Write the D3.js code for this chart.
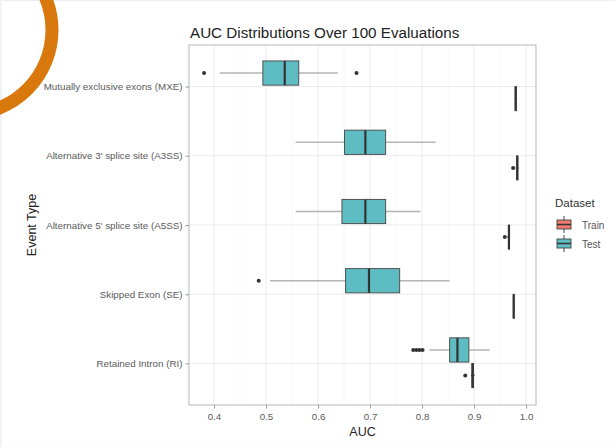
<!DOCTYPE html>
<html lang="en">
<head>
    <meta charset="UTF-8">
    <script src="https://d3js.org/d3.v7.min.js"></script>
    <style>
        body { margin: 0; background: #fff; font-family: 'Liberation Sans', Arial, sans-serif; }
        .grid-major { stroke: #ebebeb; stroke-width: 1; }
        .grid-minor { stroke: #f4f4f4; stroke-width: 0.6; }
        .tick-label { fill: #5a5a5a; font-size: 9.8px; }
    </style>
</head>
<body>
<div id="chart"></div>
<script>
    // event types, top to bottom
    const categories = [
        "Mutually exclusive exons (MXE)",
        "Alternative 3' splice site (A3SS)",
        "Alternative 5' splice site (A5SS)",
        "Skipped Exon (SE)",
        "Retained Intron (RI)"
    ];
    const xTicks = [0.4, 0.5, 0.6, 0.7, 0.8, 0.9, 1.0];
    const xMinor = [0.35, 0.45, 0.55, 0.65, 0.75, 0.85, 0.95];

    // Test set box stats
    const testLow  = [0.411, 0.557, 0.557, 0.508, 0.814];
    const testQ1   = [0.494, 0.651, 0.646, 0.653, 0.853];
    const testMed  = [0.536, 0.691, 0.691, 0.698, 0.868];
    const testQ3   = [0.563, 0.730, 0.730, 0.757, 0.890];
    const testHigh = [0.638, 0.826, 0.797, 0.853, 0.930];
    const testOutliers = [[0.381, 0.674], [], [], [0.486], [0.783, 0.789, 0.795, 0.801]];

    // Train set box stats (very tight)
    const trainLow  = [0.978, 0.980, 0.964, 0.975, 0.894];
    const trainQ1   = [0.979, 0.982, 0.966, 0.976, 0.896];
    const trainMed  = [0.980, 0.983, 0.967, 0.976, 0.897];
    const trainQ3   = [0.981, 0.984, 0.968, 0.977, 0.899];
    const trainHigh = [0.982, 0.985, 0.969, 0.978, 0.901];
    const trainOutliers = [[], [0.975], [0.959], [], [0.883]];

    const datasets = ["Train", "Test"];
    const colors = { Train: "#ee7a70", Test: "#5ebdc3" };

    const W = 615, H = 447;
    const panel = { left: 189, right: 536, top: 45, bottom: 405 };

    const svg = d3.select("#chart").append("svg")
        .attr("width", W).attr("height", H);

    // faint slide frame
    svg.append("rect")
        .attr("x", 1).attr("y", 0.5).attr("width", W).attr("height", H)
        .attr("fill", "none").attr("stroke", "#edf1f5").attr("stroke-width", 1.5);

    const x = d3.scaleLinear().domain([0.352, 1.019]).range([panel.left, panel.right]);
    const y = d3.scalePoint().domain(categories).range([panel.top, panel.bottom]).padding(0.6);
    const step = y.step();

    // grid
    svg.selectAll(".gmin").data(xMinor).join("line")
        .attr("class", "grid-minor")
        .attr("x1", d => x(d)).attr("x2", d => x(d))
        .attr("y1", panel.top).attr("y2", panel.bottom);
    svg.selectAll(".gmaj").data(xTicks).join("line")
        .attr("class", "grid-major")
        .attr("x1", d => x(d)).attr("x2", d => x(d))
        .attr("y1", panel.top).attr("y2", panel.bottom);
    svg.selectAll(".gy").data(categories).join("line")
        .attr("class", "grid-major")
        .attr("x1", panel.left).attr("x2", panel.right)
        .attr("y1", d => y(d)).attr("y2", d => y(d));

    // build box rows
    const rows = [];
    categories.forEach((c, i) => {
        rows.push({ cat: c, set: "Test", off: -0.195 * step,
            low: testLow[i], q1: testQ1[i], med: testMed[i], q3: testQ3[i], high: testHigh[i], out: testOutliers[i] });
        rows.push({ cat: c, set: "Train", off: 0.175 * step,
            low: trainLow[i], q1: trainQ1[i], med: trainMed[i], q3: trainQ3[i], high: trainHigh[i], out: trainOutliers[i] });
    });
    const boxH = 0.35 * step;

    const g = svg.append("g");
    const box = g.selectAll("g.box").data(rows).join("g").attr("class", "box")
        .attr("transform", d => "translate(0," + (y(d.cat) + d.off) + ")");

    // whiskers
    box.append("line")
        .attr("x1", d => x(d.low)).attr("x2", d => x(d.q1))
        .attr("stroke", d => d.set == "Test" ? "#b5b5b5" : "#333").attr("stroke-width", 1.5);
    box.append("line")
        .attr("x1", d => x(d.q3)).attr("x2", d => x(d.high))
        .attr("stroke", d => d.set == "Test" ? "#b5b5b5" : "#333").attr("stroke-width", 1.5);
    box.append("rect")
        .attr("x", d => x(d.q1)).attr("y", -boxH / 2)
        .attr("width", d => Math.max(0.5, x(d.q3) - x(d.q1))).attr("height", boxH)
        .attr("fill", d => colors[d.set])
        .attr("stroke", "#444").attr("stroke-width", 0.9);
    box.append("line")
        .attr("x1", d => x(d.med)).attr("x2", d => x(d.med))
        .attr("y1", -boxH / 2).attr("y2", boxH / 2)
        .attr("stroke", "#333").attr("stroke-width", 2.2);
    box.selectAll("circle").data(d => d.out).join("circle")
        .attr("cx", d => x(d)).attr("cy", 0).attr("r", 2)
        .attr("fill", "#333");

    // panel border
    svg.append("rect")
        .attr("x", panel.left).attr("y", panel.top)
        .attr("width", panel.right - panel.left).attr("height", panel.bottom - panel.top)
        .attr("fill", "none").attr("stroke", "#c4c4c4").attr("stroke-width", 1.2);

    // axes
    const xAxis = svg.append("g")
        .attr("transform", "translate(0," + panel.bottom + ")")
        .call(d3.axisBottom(x).tickValues(xTicks).tickSize(3.5).tickPadding(5).tickFormat(d3.format(".1f")));
    xAxis.select(".domain").remove();
    xAxis.selectAll("line").attr("stroke", "#999");
    xAxis.selectAll("text").attr("class", "tick-label").attr("font-family", null).attr("font-size", null);

    const yAxis = svg.append("g")
        .attr("transform", "translate(" + panel.left + ",0)")
        .call(d3.axisLeft(y).tickSize(3.5).tickPadding(3));
    yAxis.select(".domain").remove();
    yAxis.selectAll("line").attr("stroke", "#999");
    yAxis.selectAll("text").attr("class", "tick-label").attr("font-family", null).attr("font-size", null);

    // titles
    svg.append("text")
        .attr("x", panel.left + 1).attr("y", 37.5)
        .attr("fill", "#222").style("font-size", "15.2px")
        .text("AUC Distributions Over 100 Evaluations");
    svg.append("text")
        .attr("x", (panel.left + panel.right) / 2).attr("y", 436)
        .attr("text-anchor", "middle").attr("fill", "#222").style("font-size", "12.5px")
        .text("AUC");
    svg.append("text")
        .attr("transform", "translate(36," + ((panel.top + panel.bottom) / 2) + ") rotate(-90)")
        .attr("text-anchor", "middle").attr("fill", "#222").style("font-size", "12.5px")
        .text("Event Type");

    // legend
    const legend = svg.append("g").attr("transform", "translate(555,0)");
    legend.append("text").attr("x", 0).attr("y", 207)
        .attr("fill", "#333").style("font-size", "11.5px").text("Dataset");
    const item = legend.selectAll("g.item").data(datasets).join("g").attr("class", "item")
        .attr("transform", (d, i) => "translate(0," + (216 + i * 19) + ")");
    item.append("line").attr("x1", 9).attr("x2", 9).attr("y1", 0).attr("y2", 17)
        .attr("stroke", "#444").attr("stroke-width", 1);
    item.append("rect").attr("x", 2).attr("y", 4).attr("width", 14).attr("height", 9)
        .attr("fill", d => colors[d]).attr("stroke", "#444").attr("stroke-width", 0.9);
    item.append("line").attr("x1", 2).attr("x2", 16).attr("y1", 8.5).attr("y2", 8.5)
        .attr("stroke", "#333").attr("stroke-width", 1.5);
    item.append("text").attr("x", 27).attr("y", 12.5)
        .attr("fill", "#555").style("font-size", "10px").text(d => d);

    // orange decorative arc
    svg.append("circle")
        .attr("cx", -32).attr("cy", 30).attr("r", 84)
        .attr("fill", "none").attr("stroke", "#d9780c").attr("stroke-width", 13);
</script>
</body>
</html>
